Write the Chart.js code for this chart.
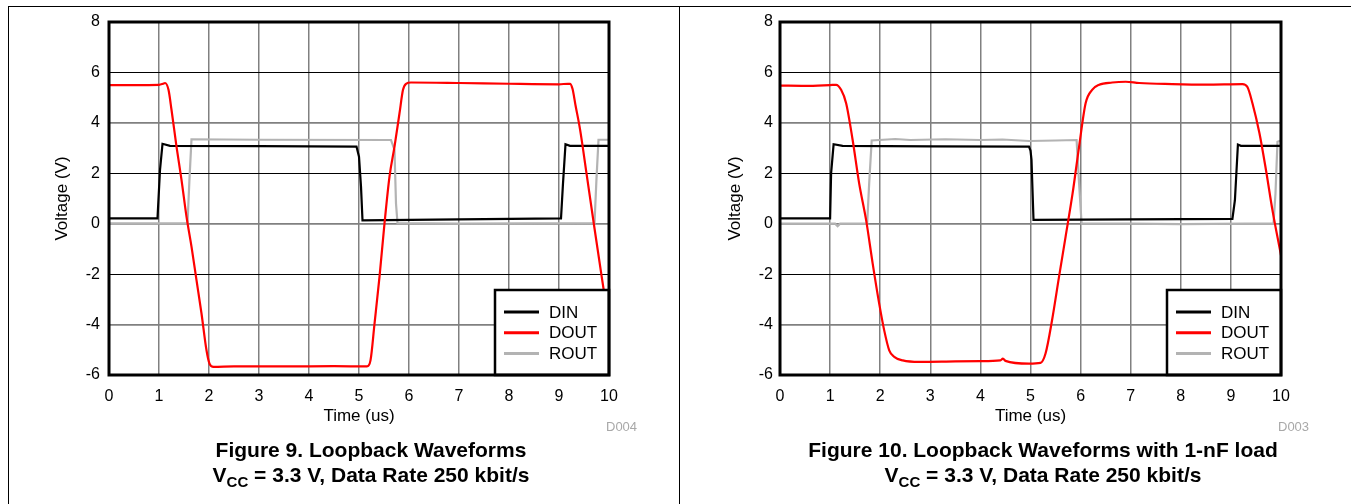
<!DOCTYPE html>
<html>
<head>
<meta charset="utf-8">
<title>Loopback Waveforms</title>
<script src="https://cdn.jsdelivr.net/npm/chart.js@4.4.1/dist/chart.umd.min.js"></script>
<style>
  html, body { margin: 0; padding: 0; background: #fff; }
  body { width: 1351px; height: 504px; position: relative; overflow: hidden;
         font-family: Arial, "Liberation Sans", sans-serif; }
  .frame-top { position: absolute; left: 8px; top: 6px; right: 0; border-top: 1px solid #000; }
  .frame-v { position: absolute; top: 6px; bottom: 0; border-left: 1px solid #000; }
  canvas { position: absolute; top: 0; }
  .fig-id { position: absolute; top: 420px; font-size: 13px; line-height: 13px; color: #a8a8a8; }
  .caption { position: absolute; top: 437px; width: 560px; text-align: center; font-weight: bold;
             font-size: 21px; line-height: 25px; white-space: nowrap; color: #000; }
  .caption .sub { font-size: 15px; position: relative; top: 5px; }
</style>
</head>
<body>
<div class="frame-top"></div>
<div class="frame-v" style="left:8px"></div>
<div class="frame-v" style="left:679px"></div>

<canvas id="fig9" width="680" height="440" style="left:0;width:680px;height:440px"></canvas>
<canvas id="fig10" width="671" height="440" style="left:680px;width:671px;height:440px"></canvas>

<div class="fig-id" style="left:606px">D004</div>
<div class="fig-id" style="left:1278px">D003</div>

<div class="caption" style="left:91px">Figure 9. Loopback Waveforms<br>V<span class="sub">CC</span> = 3.3 V, Data Rate 250 kbit/s</div>
<div class="caption" style="left:763px">Figure 10. Loopback Waveforms with 1-nF load<br>V<span class="sub">CC</span> = 3.3 V, Data Rate 250 kbit/s</div>

<script>
/* =========================================================
   Loopback waveforms — DIN / DOUT / ROUT, time in us, volts
   ========================================================= */

const xTicks = [0, 1, 2, 3, 4, 5, 6, 7, 8, 9, 10];
const yTicks = [-6, -4, -2, 0, 2, 4, 6, 8];
const seriesNames = ['DIN', 'DOUT', 'ROUT'];

// ─── Figure 9 (no load) ──────────────────────────────────
const fig9DinTime = [0, 0.97, 1.02, 1.07, 1.22, 3.0, 4.95, 5.0, 5.04, 5.07, 7.0, 9.04, 9.08, 9.13, 9.22, 10];
const fig9DinVolt = [0.21, 0.21, 2.13, 3.17, 3.09, 3.08, 3.06, 2.66, 1.47, 0.13, 0.17, 0.21, 1.6, 3.15, 3.09, 3.09];

const fig9DoutTime = [0, 0.5, 1.0, 1.08, 1.12, 1.19, 1.25, 1.35, 1.45, 1.55, 1.65, 1.75, 1.85, 1.95, 2.01, 2.09,
  2.5, 3.5, 4.5, 5.16, 5.23, 5.31, 5.41, 5.51, 5.61, 5.71, 5.81, 5.88, 5.94, 6.04, 7.0, 8.0, 9.0, 9.18,
  9.22, 9.27, 9.33, 9.42, 9.55, 9.7, 9.85, 10];
const fig9DoutVolt = [5.5, 5.5, 5.51, 5.55, 5.58, 5.31, 4.52, 3.06, 1.74, 0.28, -0.91, -2.24, -3.56, -5.02, -5.55, -5.68,
  -5.66, -5.66, -5.65, -5.66, -5.42, -3.97, -2.11, 0.01, 1.87, 3.06, 4.38, 5.31, 5.55, 5.6, 5.58, 5.55, 5.53, 5.55,
  5.55, 5.35, 4.7, 3.75, 2.0, -0.05, -2.05, -4.0];

const fig9RoutTime = [0, 1.57, 1.61, 1.65, 3.0, 5.64, 5.71, 5.74, 5.77, 7.0, 9.71, 9.75, 9.79, 10];
const fig9RoutVolt = [0.01, 0.01, 1.8, 3.35, 3.33, 3.32, 2.93, 0.8, 0.02, 0.0, 0.02, 1.8, 3.33, 3.33];

// ─── Figure 10 (1-nF load) ───────────────────────────────
const fig10DinTime = [0, 1.0, 1.02, 1.07, 1.25, 3.0, 4.97, 5.0, 5.02, 5.06, 7.0, 9.03, 9.08, 9.14, 9.2, 10];
const fig10DinVolt = [0.21, 0.21, 2.0, 3.15, 3.09, 3.07, 3.06, 2.9, 2.53, 0.15, 0.17, 0.19, 0.93, 3.14, 3.09, 3.09];

const fig10DoutTime = [0, 0.5, 1.0, 1.12, 1.22, 1.32, 1.45, 1.58, 1.72, 1.85, 1.98, 2.08, 2.18, 2.28, 2.45, 2.78,
  3.5, 4.0, 4.4, 4.45, 4.5, 4.97, 5.2, 5.3, 5.43, 5.57, 5.7, 5.84, 5.97, 6.1, 6.23, 6.37, 6.63, 6.9, 7.17,
  7.83, 8.5, 9.23, 9.33, 9.43, 9.57, 9.7, 9.83, 10];
const fig10DoutVolt = [5.48, 5.47, 5.5, 5.51, 5.31, 4.78, 3.32, 1.6, 0.13, -1.58, -3.17, -4.23, -5.02, -5.28, -5.42, -5.48,
  -5.46, -5.45, -5.42, -5.35, -5.44, -5.55, -5.52, -5.15, -3.83, -2.1, -0.52, 1.2, 3.06, 4.78, 5.31, 5.51, 5.6, 5.63, 5.58,
  5.54, 5.52, 5.54, 5.42, 4.78, 3.59, 2.13, 0.53, -1.25];

const fig10RoutTime = [0, 1.1, 1.15, 1.2, 1.74, 1.78, 1.83, 2.3, 2.6, 3.3, 4.0, 4.44, 4.97, 5.5, 5.92, 5.97, 6.02,
  7.0, 8.0, 9.3, 9.85, 9.89, 9.93, 10];
const fig10RoutVolt = [0.0, 0.0, -0.1, 0.0, 0.0, 1.6, 3.3, 3.36, 3.32, 3.35, 3.32, 3.34, 3.28, 3.3, 3.32, 1.6, 0.0,
  0.0, -0.02, 0.0, 0.0, 1.2, 3.25, 3.3];

const FONT = 'Arial, "Liberation Sans", sans-serif';
const colors = { DIN: '#000000', DOUT: '#ff0000', ROUT: '#b3b3b3' };

const pairs = (t, v) => t.map((x, i) => ({ x, y: v[i] }));

// ─── Boxed legend + plot frame ───────────────────────────
const boxLegend = {
  id: 'boxLegend',
  afterDatasetsDraw(chart) {
    const { ctx, chartArea: a } = chart;
    const w = 114, h = 85;
    const x0 = a.right - w, y0 = a.bottom - h;
    ctx.save();
    ctx.fillStyle = '#fff';
    ctx.fillRect(x0, y0, w, h);
    ctx.lineWidth = 2.5;
    ctx.strokeStyle = '#000';
    ctx.strokeRect(x0, y0, w, h);
    ctx.font = '17px ' + FONT;
    ctx.textBaseline = 'middle';
    chart.data.datasets.forEach((ds, i) => {
      const y = y0 + 22 + i * 20.7;
      ctx.strokeStyle = ds.borderColor;
      ctx.lineWidth = 3;
      ctx.beginPath();
      ctx.moveTo(x0 + 9, y);
      ctx.lineTo(x0 + 44, y);
      ctx.stroke();
      ctx.fillStyle = '#000';
      ctx.fillText(ds.label, x0 + 54, y + 1);
    });
    ctx.lineWidth = 3;
    ctx.strokeStyle = '#000';
    ctx.strokeRect(a.left, a.top, a.width, a.height);
    ctx.restore();
  },
};

function renderFigure(id, din, dout, rout, box) {
  const ctx = document.getElementById(id);
  if (!ctx) return;

  new Chart(ctx, {
    type: 'line',
    data: {
      datasets: [
        { label: seriesNames[0], data: din, borderColor: colors.DIN, order: 1 },
        { label: seriesNames[1], data: dout, borderColor: colors.DOUT, order: 0, cubicInterpolationMode: 'monotone' },
        { label: seriesNames[2], data: rout, borderColor: colors.ROUT, order: 2 },
      ].map(ds => Object.assign({ borderWidth: 2.2, pointRadius: 0, fill: false, tension: 0 }, ds)),
    },
    options: {
      responsive: false,
      animation: false,
      layout: { padding: { left: box.padLeft, right: box.padRight, top: 22, bottom: 13 } },
      plugins: { legend: { display: false }, tooltip: { enabled: false } },
      scales: {
        x: {
          type: 'linear',
          min: xTicks[0],
          max: xTicks[xTicks.length - 1],
          afterBuildTicks: s => { s.ticks = xTicks.map(value => ({ value })); },
          afterFit: s => { s.height = 52; },
          border: { display: false },
          grid: { color: '#808080', lineWidth: 1.5, drawTicks: false },
          ticks: { color: '#000', padding: 12, font: { family: FONT, size: 16 }, maxRotation: 0 },
          title: { display: true, text: 'Time (us)', color: '#000', padding: 0, font: { family: FONT, size: 17 } },
        },
        y: {
          min: yTicks[0],
          max: yTicks[yTicks.length - 1],
          afterBuildTicks: s => { s.ticks = yTicks.map(value => ({ value })); },
          afterFit: s => { s.width = box.axisWidth; },
          border: { display: false },
          grid: {
            drawTicks: false,
            color: c => (c.tick && c.tick.value % 4 === 0 ? '#808080' : '#000'),
            lineWidth: c => (c.tick && c.tick.value % 4 === 0 ? 1.7 : 1),
          },
          ticks: { color: '#000', padding: box.tickPad, font: { family: FONT, size: 16 } },
          title: { display: true, text: 'Voltage (V)', color: '#000', padding: 0, font: { family: FONT, size: 17 } },
        },
      },
    },
    plugins: [boxLegend],
  });
}

renderFigure('fig9',
  pairs(fig9DinTime, fig9DinVolt), pairs(fig9DoutTime, fig9DoutVolt), pairs(fig9RoutTime, fig9RoutVolt),
  { padLeft: 52, axisWidth: 57, tickPad: 9, padRight: 71 });

renderFigure('fig10',
  pairs(fig10DinTime, fig10DinVolt), pairs(fig10DoutTime, fig10DoutVolt), pairs(fig10RoutTime, fig10RoutVolt),
  { padLeft: 45, axisWidth: 55, tickPad: 7, padRight: 70 });
</script>
</body>
</html>
